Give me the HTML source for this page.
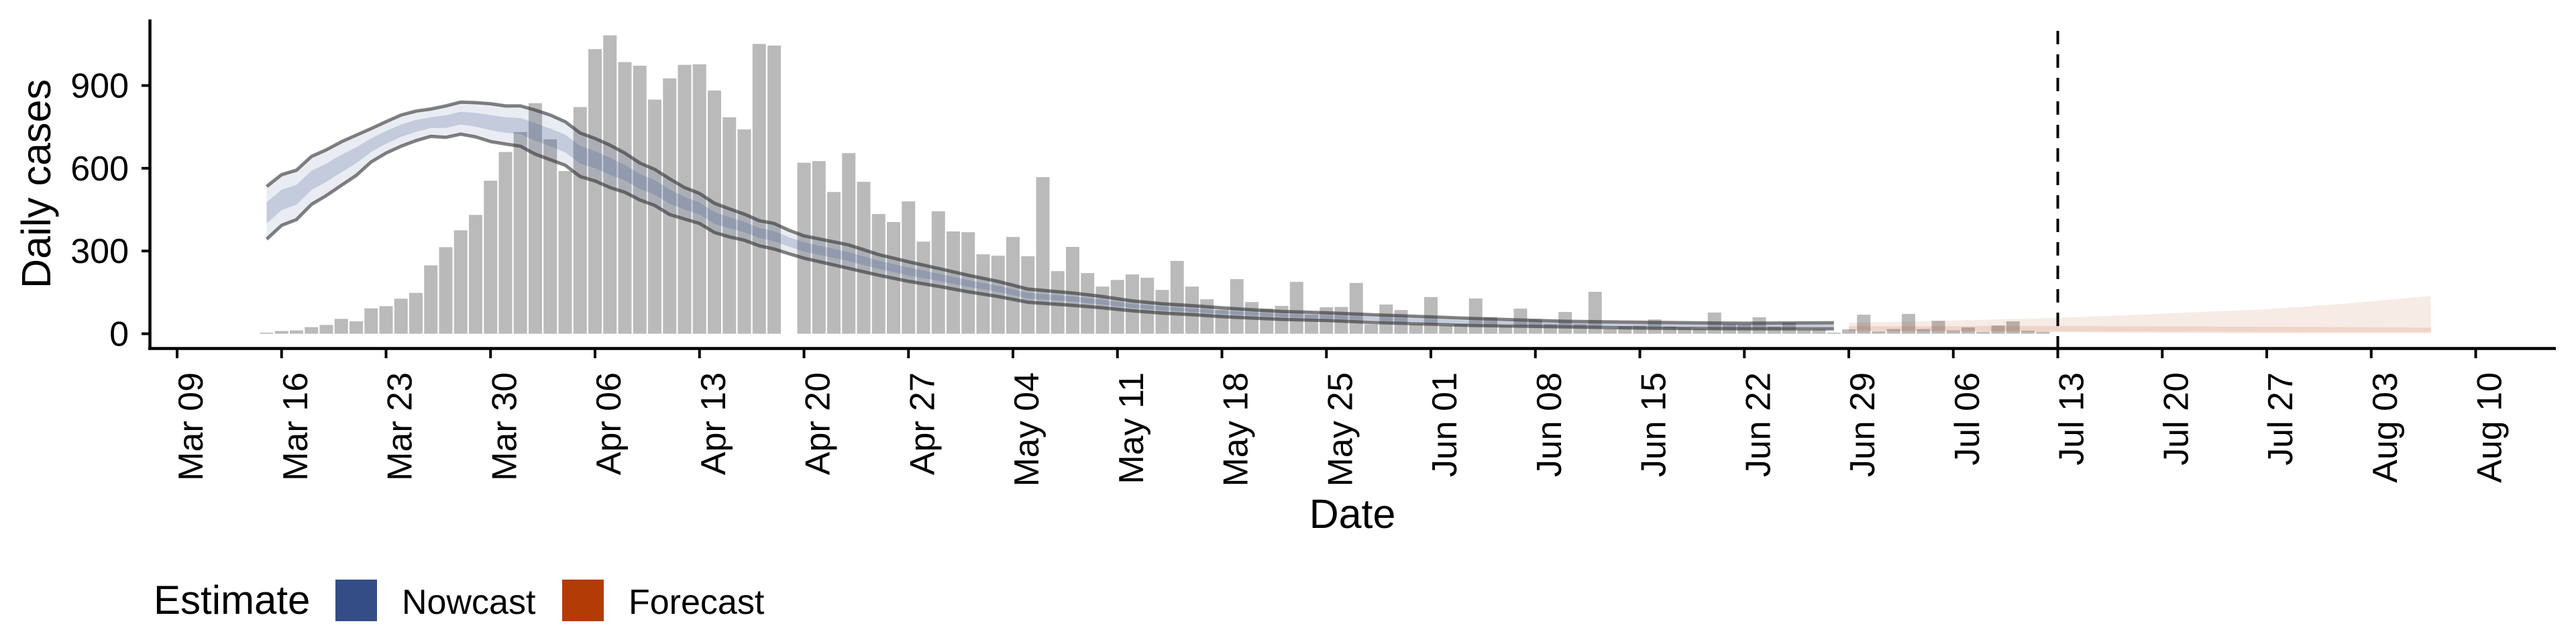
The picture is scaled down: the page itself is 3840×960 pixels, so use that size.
<!DOCTYPE html>
<html><head><meta charset="utf-8">
<style>
html,body{margin:0;padding:0;background:#fff;}
svg{display:block;font-family:"Liberation Sans",Arial,sans-serif;}
</style></head>
<body>
<svg id="chart" width="3840" height="960" viewBox="0 0 3840 960">
  <g id="bars"></g>
  <g id="bands"></g>
  <g id="lines"></g>
  <g id="axes"></g>
  <text x="0" y="0" transform="translate(75,274) rotate(-90)" text-anchor="middle" font-size="61" fill="#000">Daily cases</text>
  <text x="2016" y="787" text-anchor="middle" font-size="61" fill="#000">Date</text>
  <g>
    <text x="229" y="915" font-size="60" fill="#000">Estimate</text>
    <rect x="500" y="864" width="62" height="62" fill="#354d85"/>
    <text x="599" y="915" font-size="52" fill="#000">Nowcast</text>
    <rect x="838" y="864" width="62" height="62" fill="#b33b05"/>
    <text x="937" y="915" font-size="52" fill="#000">Forecast</text>
  </g>
</svg>
<script>
// ---- data ----
const barStartDay = 6; // days since Mar 09
const barValues = [4,10,12,24,32,54,45,92,100,127,148,248,314,375,431,555,659,731,836,705,590,822,1032,1082,985,972,849,926,975,977,882,785,741,1051,1045,
null,
620,626,514,655,551,434,405,480,334,444,371,368,288,283,351,281,568,227,315,220,171,195,215,203,159,264,171,125,87,198,115,91,101,188,70,96,97,
184,34,106,86,35,133,30,35,128,60,30,91,52,35,79,35,152,18,28,29,52,26,22,18,77,34,33,60,26,40,14,16,4,16,69,9,17,72,17,47,12,23,7,30,45,11,7];
const nowDays = [6,7,8,9,10,11,12,13,14,15,16,17,18,19,20,21,22,23,24,25,26,27,28,29,30,31,32,33,34,35,36,37,38,39,40,41,42,45,47,49,51,53,55,57,60,62,64,66,68,70,72,74,77,80,87,93,99,105,111];
const nowUpper = [534,577,593,643,667,696,720,744,769,793,807,815,826,840,838,834,826,826,811,793,769,728,708,684,655,619,596,562,530,509,473,453,434,410,400,375,355,322,287,261,237,212,190,162,148,135,119,109,102,94,87,81,76,69,55,45,41,38,40];
const nowLower = [343,393,414,469,501,538,574,623,655,680,700,716,712,724,714,697,688,680,651,631,611,570,554,530,513,485,465,432,416,400,367,351,339,319,307,290,274,237,212,190,172,152,135,114,103,94,83,75,69,62,57,52,48,41,30,25,20,18,18];
const nowInnerHi = [477,522,540,591,617,649,676,708,735,759,775,785,792,805,801,793,785,782,763,744,722,681,662,638,612,579,557,523,496,476,441,422,406,383,372,350,331,296,265,240,218,194,174,148,135,123,108,99,92,84,78,72,68,61,47,39,35,32,33];
const nowInnerLo = [400,448,468,521,551,585,618,659,689,714,732,746,746,759,751,738,729,724,699,680,658,617,600,576,556,525,504,471,450,433,399,382,368,347,335,316,298,263,235,211,192,170,152,128,117,106,94,85,79,72,66,61,56,49,38,31,27,24,25];
const fcDays = [112,117,122,126,131,136,140,145,151];
const fcUpper = [40,45,52,58,68,80,89,108,137];
const fcLower = [8,7,6,5,3,2,1,1,1];
const fcInnerHi = [27,27,28,28,27,26,25,24,22];
const fcInnerLo = [12,11,10,9,8,7,6,6,6];
const yTicks = [0,300,600,900];
const xTickLabels = ["Mar 09","Mar 16","Mar 23","Mar 30","Apr 06","Apr 13","Apr 20","Apr 27","May 04","May 11","May 18","May 25","Jun 01","Jun 08","Jun 15","Jun 22","Jun 29","Jul 06","Jul 13","Jul 20","Jul 27","Aug 03","Aug 10"];
const forecastDateDay = 126;

// ---- scales ----
const X0 = 264, PX_PER_DAY = 22.25;
const Y0 = 497.5, PX_PER_CASE = 0.4111;
function xs(d){return X0 + d*PX_PER_DAY;}
function ys(v){return Y0 - v*PX_PER_CASE;}
const NS = "http://www.w3.org/2000/svg";
function mk(tag, attrs, parent){const e=document.createElementNS(NS,tag);for(const k in attrs)e.setAttribute(k,attrs[k]);parent.appendChild(e);return e;}

// bars
const gb = document.getElementById('bars');
barValues.forEach((v,i)=>{
  if(v===null) return;
  const d = barStartDay + i;
  const r = mk('rect',{x:xs(d)-10,y:ys(v),width:20,height:Y0-ys(v),fill:'#bababa'},gb);
  
  
});

// bands
function bandPath(days, hi, lo){
  let p = days.map((d,i)=>(i?'L':'M')+xs(d).toFixed(1)+','+ys(hi[i]).toFixed(1)).join(' ');
  for(let i=days.length-1;i>=0;i--) p += ' L'+xs(days[i]).toFixed(1)+','+ys(lo[i]).toFixed(1);
  return p+' Z';
}
function linePath(days, vals){return days.map((d,i)=>(i?'L':'M')+xs(d).toFixed(1)+','+ys(vals[i]).toFixed(1)).join(' ');}
const gd = document.getElementById('bands');
const b1 = mk('path',{d:bandPath(nowDays,nowUpper,nowLower),fill:'#3b5590','fill-opacity':0.11},gd);


const b2 = mk('path',{d:bandPath(nowDays,nowInnerHi,nowInnerLo),fill:'#3b5590','fill-opacity':0.22},gd);


const b3 = mk('path',{d:bandPath(fcDays,fcUpper,fcLower),fill:'#b33b05','fill-opacity':0.1},gd);


const b4 = mk('path',{d:bandPath(fcDays,fcInnerHi,fcInnerLo),fill:'#b33b05','fill-opacity':0.13},gd);



// lines
const gl = document.getElementById('lines');
const l1 = mk('path',{d:linePath(nowDays,nowUpper),fill:'none',stroke:'#333','stroke-opacity':0.62,'stroke-width':5,'stroke-linejoin':'round'},gl);


const l2 = mk('path',{d:linePath(nowDays,nowLower),fill:'none',stroke:'#333','stroke-opacity':0.62,'stroke-width':5,'stroke-linejoin':'round'},gl);


const dl = mk('line',{x1:xs(forecastDateDay),x2:xs(forecastDateDay),y1:46,y2:519,stroke:'#000','stroke-width':4,'stroke-dasharray':'20 15'},gl);



// axes
const ga = document.getElementById('axes');
const ya = mk('line',{x1:223.5,x2:223.5,y1:29,y2:521,stroke:'#000','stroke-width':4.5},ga);


const xa = mk('line',{x1:221,x2:3810,y1:519.5,y2:519.5,stroke:'#000','stroke-width':4.5},ga);


yTicks.forEach(v=>{
  const t = mk('line',{x1:211,x2:223,y1:ys(v),y2:ys(v),stroke:'#000','stroke-width':4},ga);
  
  
  const tx = mk('text',{x:192,y:ys(v)+18,'text-anchor':'end','font-size':52,fill:'#000'},ga);
  tx.textContent = v;
  
  
});
xTickLabels.forEach((lab,i)=>{
  const x = xs(i*7);
  const t = mk('line',{x1:x,x2:x,y1:519,y2:534,stroke:'#000','stroke-width':4},ga);
  
  
  const tx = mk('text',{x:0,y:0,transform:'translate('+(x+38)+',555) rotate(-90)','text-anchor':'end','font-size':52,fill:'#000'},ga);
  tx.textContent = lab;
  
  
});
</script>
</body></html>
